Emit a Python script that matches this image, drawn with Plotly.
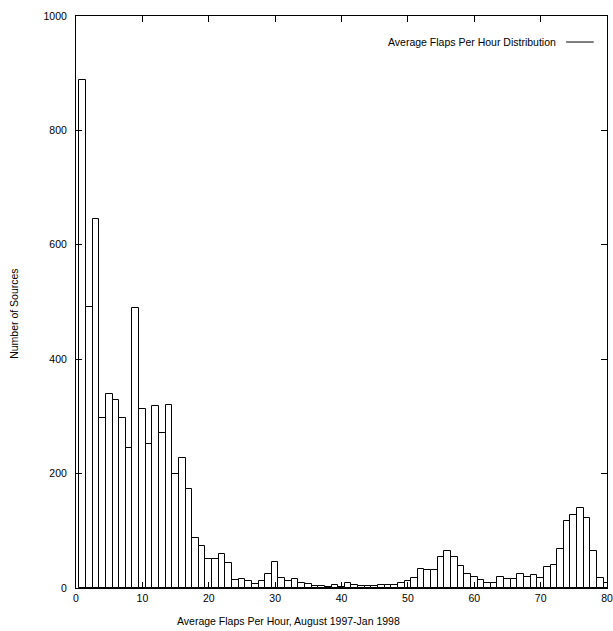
import plotly.graph_objects as go

# Data
flap_rate = list(range(1, 81))
num_sources = [888, 492, 645, 298, 339, 329, 298, 244, 490, 313,
               251, 319, 271, 320, 199, 227, 173, 87, 73, 50,
               51, 59, 44, 14, 15, 13, 7, 12, 24, 46,
               18, 13, 15, 8, 7, 3, 3, 2, 5, 2,
               8, 5, 4, 4, 3, 5, 5, 5, 8, 12,
               18, 33, 31, 31, 55, 64, 55, 39, 25, 20,
               14, 9, 8, 20, 16, 16, 25, 19, 23, 18,
               36, 40, 69, 117, 128, 139, 123, 65, 17, 9]
series_name = "Average Flaps Per Hour Distribution"
x_title = "Average Flaps Per Hour, August 1997-Jan 1998"
y_title = "Number of Sources"
x_ticks = [0, 10, 20, 30, 40, 50, 60, 70, 80]
y_ticks = [0, 200, 400, 600, 800, 1000]

FONT = "Liberation Sans, Arial, sans-serif"
FS = 10.5

fig = go.Figure()
fig.add_trace(go.Bar(
    x=flap_rate, y=num_sources, width=1.0, name=series_name,
    marker=dict(color="white", line=dict(color="black", width=1)),
    showlegend=False,
))

fig.update_layout(
    width=613, height=631,
    margin=dict(l=76, r=6, t=16, b=43, autoexpand=False),
    paper_bgcolor="white", plot_bgcolor="white",
    font=dict(family=FONT, size=FS, color="black"),
    bargap=0,
    showlegend=False,
)
fig.update_xaxes(
    range=[0, 80], tickvals=x_ticks, ticks="inside", ticklen=6,
    tickcolor="black", showline=True, linecolor="black", linewidth=1,
    mirror="ticks", showgrid=False, zeroline=False, automargin=False,
    tickfont=dict(family=FONT, size=FS),
)
fig.update_yaxes(
    range=[0, 1000], tickvals=y_ticks, ticks="inside", ticklen=6,
    tickcolor="black", showline=True, linecolor="black", linewidth=1,
    mirror="ticks", showgrid=False, zeroline=False, automargin=False,
    ticklabelstandoff=6,
    tickfont=dict(family=FONT, size=FS),
)

# axis titles
fig.add_annotation(text=x_title, xref="paper", yref="paper",
                   x=0.401, y=-0.058, xanchor="center", yanchor="middle",
                   showarrow=False, font=dict(family=FONT, size=FS))
fig.add_annotation(text=y_title, xref="paper", yref="paper",
                   x=-0.116, y=0.480, xanchor="center", yanchor="middle",
                   textangle=-90, showarrow=False, font=dict(family=FONT, size=FS))

# gnuplot-style key: text then line sample on the right
fig.add_annotation(text=series_name, xref="paper", yref="paper",
                   x=0.908, y=0.9545, xanchor="right", yanchor="middle",
                   showarrow=False, font=dict(family=FONT, size=FS))
fig.add_shape(type="line", xref="paper", yref="paper",
              x0=0.923, x1=0.975, y0=0.9545, y1=0.9545,
              line=dict(color="black", width=1))

fig.write_html("out.html",
               config={"displayModeBar": False},
               post_script="document.body.style.margin='0';"
                           "document.body.style.overflow='hidden';")
